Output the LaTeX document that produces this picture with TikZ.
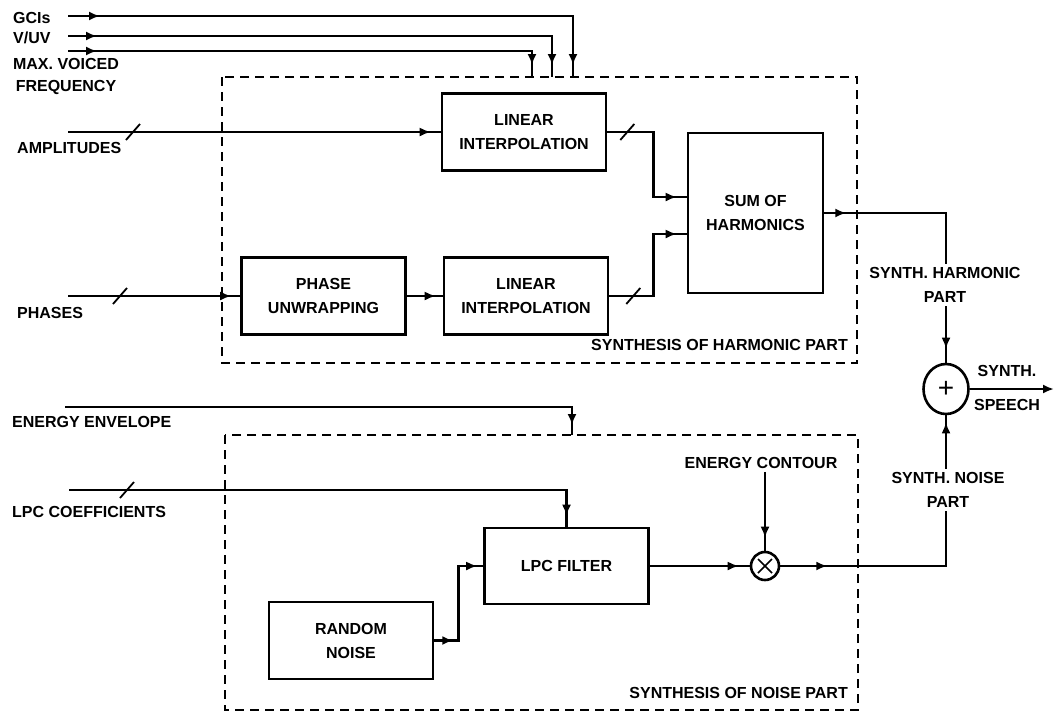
\documentclass[tikz,border=0pt]{standalone}
\usepackage{fontspec}
\setmainfont{Liberation Sans}
\usetikzlibrary{arrows.meta,calc,decorations.markings,shapes.geometric}

\tikzset{
  wire/.style={line width=2.6pt},
  tipat/.style={postaction={decorate,decoration={markings,
      mark=at position #1 with {\arrow{Latex[length=11pt,width=9pt]}}}}},
  busat/.style={postaction={decorate,decoration={markings,
      mark=at position #1 with {\draw[line width=1.8pt] (-7pt,-8pt) -- (7pt,8pt);}}}},
  block/.style={draw, line width=2.6pt, inner sep=0pt, minimum width=164pt,
      minimum height=77pt, align=center},
  group/.style={line width=2.6pt, dash pattern=on 9pt off 6pt},
  txt/.style={align=center, inner sep=0pt},
}

\begin{document}
\begin{tikzpicture}[x=1pt, y=-1pt, font=\bfseries\fontsize{16}{24}\selectfont]
    \useasboundingbox (0,0) rectangle (1055,713);
    % dashed groups
    \draw[group] (222,77) rectangle (857,363);
    \draw[group] (225,435) rectangle (858,710);
    \node[txt, anchor=east] (harmgrp) at (848,345) {SYNTHESIS OF HARMONIC PART};
    \node[txt, anchor=east] (noisegrp) at (848,693) {SYNTHESIS OF NOISE PART};

    % blocks
    \node[block] (lin1) at (524,132) {LINEAR\\INTERPOLATION};
    \node[block] (unwrap) at (323.5,296) {PHASE\\UNWRAPPING};
    \node[block] (lin2) at (526,296) {LINEAR\\INTERPOLATION};
    \node[block, minimum width=135pt, minimum height=160pt] (sum) at (755.5,213) {SUM OF\\HARMONICS};
    \node[block, minimum height=76pt] (lpc) at (566.5,566) {LPC FILTER};
    \node[block] (noise) at (351,640.5) {RANDOM\\NOISE};
    \node[draw, wire, ellipse, minimum width=45pt, minimum height=50pt, inner sep=0pt,
          font=\fontsize{28}{28}\selectfont] (add) at (946,389) {+};
    \node[draw, wire, circle, minimum size=28pt, inner sep=0pt] (mult) at (765,566) {};
    \draw[line width=1.6pt] ([shift={(-7,-7)}]mult.center) -- ([shift={(7,7)}]mult.center);
    \draw[line width=1.6pt] ([shift={(-7,7)}]mult.center) -- ([shift={(7,-7)}]mult.center);

    % inputs
    \node[txt, anchor=west] (gcilbl) at (13,18) {GCIs};
    \node[txt, anchor=west] (vuvlbl) at (13,38) {V/UV};
    \node[txt] (fmaxlbl) at (66,76) {MAX. VOICED\\[-2pt]FREQUENCY};
    \node[txt, anchor=west] (amplbl) at (17,148) {AMPLITUDES};
    \node[txt, anchor=west] (phlbl) at (17,313) {PHASES};
    \node[txt, anchor=west] (envlbl) at (12,422) {ENERGY ENVELOPE};
    \node[txt, anchor=west] (lpcclbl) at (12,512) {LPC COEFFICIENTS};
    \node[txt, inner sep=3pt] (ctrlbl) at (761,463) {ENERGY CONTOUR};

    \coordinate (gci) at (68,16);
    \coordinate (vuv) at (68,36);
    \coordinate (fmax) at (68,51);
    \coordinate (amp) at (68,132);
    \coordinate (ph) at (68,296);
    \coordinate (env) at (65,407);
    \coordinate (lpcc) at (69,490);
    \coordinate (gciend) at (573,77);
    \coordinate (vuvend) at (552,77);
    \coordinate (fmaxend) at (532,77);
    \coordinate (envend) at (572,435);
    \coordinate (speech) at (1054,389);

    % connectors
    \draw[wire, tipat=32pt, tipat=-12pt] (gci) -| (gciend);
    \draw[wire, tipat=29pt, tipat=-12pt] (vuv) -| (vuvend);
    \draw[wire, tipat=29pt, tipat=-12pt] (fmax) -| (fmaxend);
    \draw[wire, busat=65pt, tipat=-10pt] (amp) -- (lin1.west);
    \draw[wire, busat=52pt, tipat=-9pt] (ph) -- (unwrap.west);
    \draw[wire, tipat=-7pt] (unwrap.east) -- (lin2.west);
    \draw[wire, busat=20pt, tipat=-10pt] (lin1.east) -- ++(46,0) |- ($(sum.west)+(0,-16)$);
    \draw[wire, busat=24pt, tipat=-10pt] (lin2.east) -- ++(44,0) |- ($(sum.west)+(0,21)$);
    \draw[wire, tipat=22pt, tipat=-14pt] (sum.east) -| (add.north);
    \draw[wire, -{Latex[length=11pt,width=9pt]}] (add.east) -- (speech);
    \draw[wire, tipat=-10pt] (env) -| (envend);
    \draw[wire, busat=58pt, tipat=-11pt] (lpcc) -| (lpc.north);
    \draw[wire, tipat=19pt, tipat=-6pt] (noise.east) -- ++(24,0) |- (lpc.west);
    \draw[wire, tipat=-11pt] (lpc.east) -- (mult.west);
    \draw[wire, tipat=-13pt] (mult |- ctrlbl.south) -- (mult.north);
    \draw[wire, tipat=47pt, tipat=-7pt] (mult.east) -| (add.south);

    % output labels
    \node[txt, fill=white, inner sep=3pt] (harmlbl) at (945,285) {SYNTH. HARMONIC\\PART};
    \node[txt, fill=white, inner sep=3pt] (noiselbl) at (948,490) {SYNTH. NOISE\\PART};
    \node[txt] (synlbl) at (1007,371) {SYNTH.};
    \node[txt] (speechlbl) at (1007,405) {SPEECH};
\end{tikzpicture}
\end{document}
